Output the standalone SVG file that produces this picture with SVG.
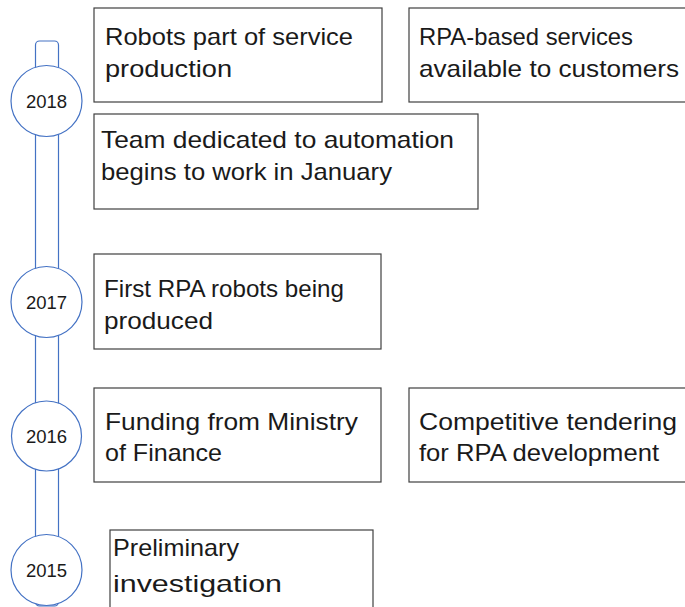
<svg xmlns="http://www.w3.org/2000/svg" width="685" height="607" viewBox="0 0 685 607">
  <style>
    .box { fill: #ffffff; stroke: #404040; stroke-width: 1.2; }
    .lbl { font-family: "Liberation Sans", Arial, sans-serif; font-size: 24px; fill: #1a1a1a; }
    .yr-c { fill: #ffffff; stroke: #4472c4; stroke-width: 1.2; }
    .yr { font-family: "Liberation Sans", Arial, sans-serif; font-size: 18.5px; fill: #1a1a1a; text-anchor: middle; }
    .bar { fill: #ffffff; stroke: #4472c4; stroke-width: 1.2; }
  </style>

  <!-- timeline spine -->
  <g id="connectors">
    <rect class="bar" x="35.5" y="41" width="23" height="565" rx="4" ry="4"/>
  </g>

  <!-- year markers -->
  <g id="year-2018">
    <circle class="yr-c" cx="46.5" cy="101" r="35.5"/>
    <text class="yr" x="46.5" y="107.5">2018</text>
  </g>
  <g id="year-2017">
    <circle class="yr-c" cx="46.5" cy="302" r="35.5"/>
    <text class="yr" x="46.5" y="308.5">2017</text>
  </g>
  <g id="year-2016">
    <circle class="yr-c" cx="46.5" cy="436" r="35"/>
    <text class="yr" x="46.5" y="442.5">2016</text>
  </g>
  <g id="year-2015">
    <circle class="yr-c" cx="46.5" cy="570" r="35.5"/>
    <text class="yr" x="46.5" y="576.5">2015</text>
  </g>

  <!-- events -->
  <g id="robots-service-production">
    <rect class="box" x="94" y="8" width="288" height="94"/>
    <text class="lbl" x="105" y="45" textLength="248" lengthAdjust="spacingAndGlyphs">Robots part of service</text>
    <text class="lbl" x="105" y="77" textLength="127" lengthAdjust="spacingAndGlyphs">production</text>
  </g>
  <g id="rpa-services-customers">
    <rect class="box" x="409" y="8" width="290" height="94"/>
    <text class="lbl" x="419" y="45" textLength="214" lengthAdjust="spacingAndGlyphs">RPA-based services</text>
    <text class="lbl" x="419" y="77" textLength="260" lengthAdjust="spacingAndGlyphs">available to customers</text>
  </g>
  <g id="automation-team">
    <rect class="box" x="94" y="114" width="384" height="95"/>
    <text class="lbl" x="101" y="148" textLength="353" lengthAdjust="spacingAndGlyphs">Team dedicated to automation</text>
    <text class="lbl" x="101" y="180" textLength="291" lengthAdjust="spacingAndGlyphs">begins to work in January</text>
  </g>
  <g id="first-rpa-robots">
    <rect class="box" x="94" y="254" width="287" height="95"/>
    <text class="lbl" x="104" y="297" textLength="240" lengthAdjust="spacingAndGlyphs">First RPA robots being</text>
    <text class="lbl" x="104" y="329" textLength="109" lengthAdjust="spacingAndGlyphs">produced</text>
  </g>
  <g id="ministry-funding">
    <rect class="box" x="94" y="388" width="287" height="94"/>
    <text class="lbl" x="105" y="430" textLength="253" lengthAdjust="spacingAndGlyphs">Funding from Ministry</text>
    <text class="lbl" x="105" y="461" textLength="117" lengthAdjust="spacingAndGlyphs">of Finance</text>
  </g>
  <g id="competitive-tendering">
    <rect class="box" x="409" y="388" width="290" height="94"/>
    <text class="lbl" x="419" y="430" textLength="258" lengthAdjust="spacingAndGlyphs">Competitive tendering</text>
    <text class="lbl" x="419" y="461" textLength="240" lengthAdjust="spacingAndGlyphs">for RPA development</text>
  </g>
  <g id="preliminary-investigation">
    <rect class="box" x="110" y="530" width="263" height="90"/>
    <text class="lbl" x="113" y="556" textLength="126" lengthAdjust="spacingAndGlyphs">Preliminary</text>
    <text class="lbl" x="113" y="592" textLength="169" lengthAdjust="spacingAndGlyphs">investigation</text>
  </g>
</svg>
